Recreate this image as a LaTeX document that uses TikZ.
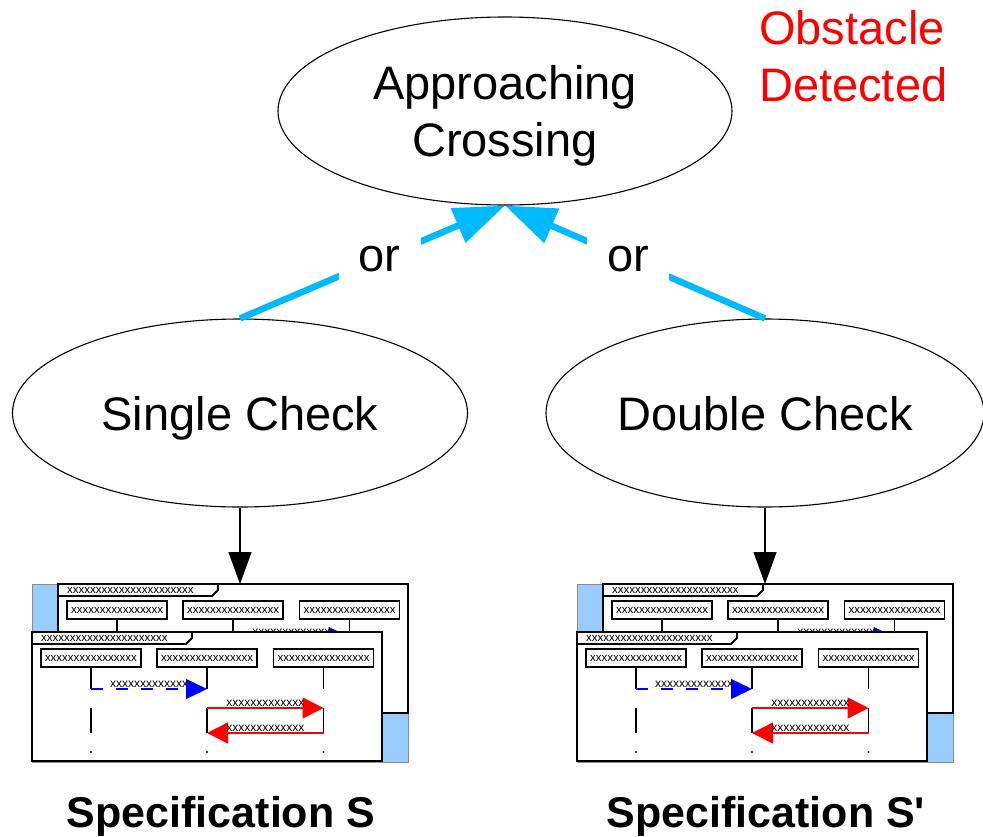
\documentclass[tikz,border=0pt]{standalone}
\usepackage{fontspec}
\setmainfont{Liberation Sans}
\usetikzlibrary{shapes.geometric,arrows.meta,calc}
\definecolor{orcyan}{RGB}{0,185,255}
\definecolor{bgblue}{RGB}{153,204,255}
\newcommand\myBigFont{\fontsize{47}{56.5}\selectfont}
\newcommand\xboxtext{xxxxxxxxxxxxxxxx}
\newcommand\xmsgtext{xxxxxxxxxxxxx}
\newcommand\straightquote{\XeTeXglyph\XeTeXcharglyph"0027\relax}
\newcommand\sdcontent[2]{%
  \draw[sdtab] (#1.north west) -- ++(160,0) -- ++(0,6) -- ++(-6,6) -- ++(-154,0) -- cycle;
  \node[xtext,anchor=west] (#2tab) at ($(#1.north west)+(9,6)$) {xxxxxxxxxxxxxxxxxxxxxx};
  \node[lifebox] (#21) at ($(#1.north west)+(59,26)$) {\xboxtext};
  \node[lifebox] (#22) at ($(#1.north west)+(175,26)$) {\xboxtext};
  \node[lifebox] (#23) at ($(#1.north west)+(291.5,26)$) {\xboxtext};
}
\newcommand\specpic[3]{%
  \begin{scope}[shift={(#1,0)}]
    \node[specbg,anchor=north west] (#2bg) at (32,584) {};
    % back diagram
    \node[sdframe,anchor=north west] (#2back) at (58,584) {};
    \sdcontent{#2back}{#2b}
    \foreach \i in {1,2,3} {\draw[lifeline] (#2b\i.south) -- ++(0,30);}
    \draw[msgblue] ($(#2b2.south)+(0,18)$) -- node[msglabel] (#2bm) {\xmsgtext} ($(#2b3.south)+(0,18)$);
    % front diagram
    \node[sdframe,anchor=north west] (#2front) at (32,632) {};
    \sdcontent{#2front}{#2f}
    \foreach \i in {1,2,3} {
      \draw[lifeline] (#2f\i.south) -- ++(0,22);
      \draw[lifeline] ($(#2f\i.south)+(0,41)$) -- ++(0,25);
      \fill ($(#2f\i.south)+(0,85)$) circle (1.1pt);
    }
    \draw[msgblue] ($(#2f1.south)+(0,22)$) -- node[msglabel] (#2m1) {\xmsgtext} ($(#2f2.south)+(0,22)$);
    \draw[msgred] ($(#2f2.south)+(0,41)$) -- node[msglabel] (#2m2) {\xmsgtext} ($(#2f3.south)+(0,41)$);
    \draw[msgred] ($(#2f3.south)+(0,66)$) -- node[msglabel] (#2m3) {\xmsgtext} ($(#2f2.south)+(0,66)$);
    \node[spectext,anchor=base] (#2label) at (221,827) {#3};
  \end{scope}
}
\begin{document}
\begin{tikzpicture}[x=1pt,y=-1pt,
  ell/.style={ellipse,draw,line width=1.1pt,inner sep=0pt,minimum height=188pt,
    text depth=-4pt,font=\myBigFont,align=center},
  orarrow/.style={draw=orcyan,line width=6.5pt,-{Triangle[length=51pt,width=36pt]}},
  ornode/.style={fill=white,inner sep=0pt,minimum width=82pt,minimum height=50pt,font=\myBigFont},
  downarrow/.style={line width=1.3pt,-{Triangle[length=32pt,width=23pt]}},
  specbg/.style={rectangle,fill=bgblue,draw=black!45,line width=0.6pt,
    minimum width=376pt,minimum height=178pt,inner sep=0pt,outer sep=0pt},
  sdframe/.style={rectangle,fill=white,draw=black,line width=2.2pt,
    minimum width=350pt,minimum height=129pt,inner sep=0pt,outer sep=0pt},
  sdtab/.style={fill=white,draw=black,line width=1.8pt,line join=miter},
  xtext/.style={inner sep=0pt,font=\fontsize{11.5}{12}\selectfont},
  lifebox/.style={rectangle,draw=black,fill=white,line width=1.8pt,minimum width=100pt,
    minimum height=18pt,inner sep=0pt,outer sep=0pt,font=\fontsize{11.5}{12}\selectfont},
  lifeline/.style={line width=1.6pt},
  msgblue/.style={draw=blue,line width=1.5pt,dash pattern=on 11.5pt off 13.5pt,
    -{Triangle[length=21pt,width=20pt]}},
  msgred/.style={draw=red,line width=1.5pt,-{Triangle[length=21pt,width=21pt]}},
  msglabel/.style={above,inner sep=1pt,font=\fontsize{12}{12}\selectfont},
  spectext/.style={font=\fontsize{43}{50}\selectfont\bfseries,inner sep=0pt}
]
\useasboundingbox (0,0) rectangle (983,836);

\node[ell,minimum width=454pt] (approach) at (505,111) {Approaching\\Crossing};
\node[ell,minimum width=455pt] (single) at (240,413) {Single Check};
\node[ell,minimum width=438pt] (double) at (765,413) {Double Check};
\node[font=\myBigFont,text=red,align=left,anchor=west,inner sep=0pt] (obstacle) at (759,56) {Obstacle\\Detected};

\specpic{0}{S}{Specification S}
\specpic{545}{T}{Specification S\straightquote}

\draw[orarrow] (single.north) -- node[ornode,pos=0.527] (orleft) {or} (approach.south);
\draw[orarrow] (double.north) -- node[ornode,pos=0.527] (orright) {or} (approach.south);

\draw[downarrow] (single.south) -- (single.south |- Sback.north);
\draw[downarrow] (double.south) -- (double.south |- Tback.north);
\end{tikzpicture}
\end{document}
